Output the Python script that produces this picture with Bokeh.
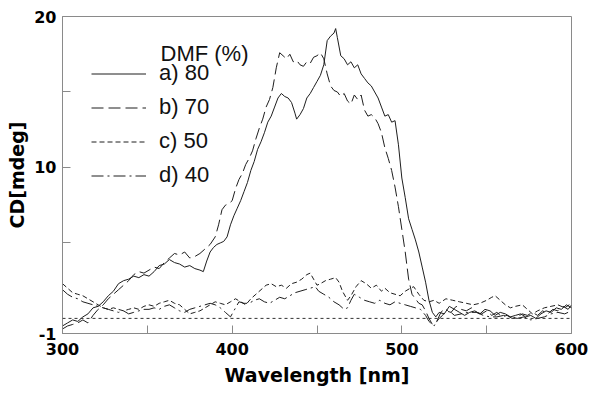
from bokeh.plotting import figure
from bokeh.models import Range1d, FixedTicker, Legend, LegendItem, Label, Span
from bokeh.embed import file_html
from bokeh.resources import INLINE

# ---- data ----
wl_a = [300,303,306,309,312,315,318,321,324,327,330,333,336,339,342,345,348,351,354,357,360,363,366,369,372,375,378,381,383,385,387,389,391,393,395,397,399,401,403,405,407,409,411,413,415,417,419,421,423,425,427,429,431,433,435,437,438,440,442,444,446,448,450,452,454,456,458,460,461,462,464,466,468,470,472,474,476,478,480,482,484,486,488,490,492,494,496,498,500,502,504,506,508,510,512,514,516,518,520,522,525,528,531,534,537,540,543,546,549,552,555,558,561,564,567,570,573,576,579,582,585,588,591,594,597,600]
cd_a = [-0.5,-0.3,-0.1,-0.2,0.1,0.3,0.7,0.8,1.1,1.5,1.8,2.3,2.5,2.6,2.8,2.7,2.9,2.8,3.1,3.5,3.6,3.9,3.7,3.6,3.4,3.5,3.3,3.2,3.1,3.8,4.4,4.7,4.9,5.0,5.1,5.4,6.2,6.8,7.3,7.8,8.4,9.0,9.8,10.4,11.2,11.7,12.3,13.0,13.4,14.0,14.6,14.9,14.7,14.6,14.3,13.6,13.2,13.5,13.9,14.6,14.9,15.3,15.7,16.1,16.8,18.4,18.7,18.9,19.2,18.6,17.4,17.2,16.8,17.0,16.6,16.8,16.2,15.9,15.6,15.4,15.0,14.6,14.0,13.4,13.5,13.0,13.1,11.5,9.3,8.0,6.6,5.9,5.2,4.4,3.4,2.4,1.2,0.4,0.1,0.4,0.3,0.8,0.6,0.4,0.2,0.4,0.5,0.3,0.6,0.5,0.2,0.4,0.3,0.1,0.2,0.3,0.1,0.2,0.0,0.3,0.5,0.4,0.7,0.6,0.9,0.7]

wl_b = [300,303,306,309,312,315,318,321,324,327,330,333,336,339,342,345,348,351,354,357,360,363,366,369,372,375,378,381,384,387,390,392,394,396,398,400,402,404,406,408,410,412,414,416,418,420,422,424,426,428,430,432,434,436,438,440,442,444,446,448,450,452,454,456,458,460,462,464,466,468,470,472,474,476,478,480,482,484,486,488,490,492,494,496,498,500,502,504,506,508,510,512,514,516,518,520,522,524,526,529,532,535,538,541,544,547,550,553,556,559,562,565,568,571,574,577,580,583,586,589,592,595,598,600]
cd_b = [-0.7,-0.5,-0.4,-0.3,-0.1,-0.3,0.2,0.6,0.9,1.3,1.6,1.9,2.2,2.5,2.9,3.1,3.0,3.2,3.4,3.3,3.7,4.0,4.3,4.2,4.4,4.0,4.1,4.3,4.6,4.9,5.4,6.2,7.2,7.5,7.6,7.8,8.6,9.2,9.6,10.2,10.6,11.1,11.9,12.6,13.2,14.0,14.5,15.3,16.6,17.6,17.4,17.2,17.5,17.0,17.1,16.8,16.7,17.0,16.9,17.3,17.4,17.6,17.2,16.2,15.4,15.1,15.0,14.7,14.9,14.4,14.2,14.8,14.5,14.8,13.8,13.4,13.5,13.3,12.9,12.3,11.3,10.6,9.8,8.7,7.4,5.9,4.4,2.6,1.6,1.3,1.0,0.9,0.5,0.0,-0.4,-0.3,0.0,0.2,0.5,0.4,0.8,0.6,0.5,0.7,0.4,0.3,0.5,0.2,0.4,0.1,0.2,0.0,0.1,0.3,0.2,0.4,0.2,0.5,0.3,0.6,0.5,0.8,0.6,0.9]

wl_c = [300,303,306,309,312,315,318,321,324,327,330,333,336,339,342,345,348,351,354,357,360,363,366,369,372,375,378,381,384,387,390,393,396,399,402,405,408,411,414,417,420,423,426,429,432,435,438,441,444,446,448,450,452,455,458,461,463,465,468,470,473,476,479,482,485,488,490,493,496,499,502,505,507,510,513,516,519,522,526,530,534,538,542,546,550,553,555,558,561,564,567,571,574,577,580,584,588,592,596,600]
cd_c = [2.3,2.0,1.7,1.6,1.5,1.3,1.1,0.9,0.7,0.6,0.7,0.6,0.5,0.6,0.7,0.6,0.8,0.9,0.8,1.0,1.1,1.2,1.0,0.9,0.6,0.3,0.4,0.5,0.7,0.9,1.1,1.0,0.9,1.1,1.3,1.1,0.9,1.3,1.6,1.9,2.2,2.3,2.1,2.2,2.0,2.3,2.4,2.6,2.9,3.0,2.6,2.2,2.3,2.5,2.6,2.7,2.4,1.8,1.2,1.5,2.1,2.5,2.3,2.0,2.2,1.8,2.0,1.7,1.6,1.5,1.8,2.0,2.1,1.6,1.2,1.1,1.2,1.0,1.3,1.2,1.1,1.0,0.9,1.0,1.2,1.4,1.5,1.2,0.9,0.7,0.8,0.9,0.6,0.3,0.5,0.7,0.8,0.9,0.7,1.0]

wl_d = [300,303,306,309,312,315,318,321,324,327,330,333,336,339,342,345,348,351,354,357,360,363,366,369,372,375,378,381,384,387,390,393,396,399,402,404,407,410,413,416,419,422,425,428,431,434,437,440,443,446,449,451,454,457,460,463,466,468,470,472,475,478,481,484,487,490,493,496,499,502,505,508,511,514,516,519,521,523,525,528,531,535,539,544,548,552,556,560,564,568,572,576,580,584,588,592,596,600]
cd_d = [1.9,1.6,1.4,1.3,1.1,1.0,0.9,0.8,0.7,0.6,0.5,0.4,0.5,0.3,0.4,0.5,0.6,0.6,0.7,0.6,0.8,0.9,0.7,0.5,0.4,0.6,0.7,0.8,0.9,1.0,0.9,0.7,0.4,0.1,0.7,1.1,1.0,1.0,1.2,1.3,1.1,1.0,1.2,1.4,1.3,1.5,1.7,1.8,1.9,2.0,2.1,1.8,1.6,1.4,1.1,0.9,0.6,0.7,1.2,1.6,1.4,1.2,1.1,1.0,1.2,1.0,0.9,1.1,1.0,0.9,0.8,0.7,0.6,0.2,-0.2,-0.5,-0.1,0.4,0.6,0.5,0.2,0.3,0.4,0.4,0.2,0.1,0.1,0.2,0.1,0.0,0.1,-0.1,0.0,0.1,0.3,0.4,0.3,0.5]

labels = ["a) 80", "b) 70", "c) 50", "d) 40"]
legend_title = "DMF (%)"
x_ticks = [300, 350, 400, 450, 500, 550, 600]
x_labeled = [300, 400, 500, 600]
y_ticks = [-1, 5, 10, 15, 20]
y_labeled = [-1, 10, 20]

LINE = "#1e1e1e"
GRAY = "#8a8a8a"
AXFONT = "DejaVu Sans"
LGFONT = "Liberation Sans"

p = figure(width=588, height=388, output_backend="svg", toolbar_location=None,
           x_range=Range1d(300, 600), y_range=Range1d(-1, 20),
           min_border_left=62, min_border_right=17, min_border_top=16, min_border_bottom=0)
p.grid.visible = False
p.outline_line_color = GRAY
p.outline_line_width = 1
p.background_fill_color = "white"
p.border_fill_color = "white"

zero = Span(location=0, dimension="width", line_color="#333333", line_width=1, line_dash="3 3")
p.add_layout(zero)

r_a = p.line(wl_a, cd_a, line_color=LINE, line_width=1)
r_b = p.line(wl_b, cd_b, line_color=LINE, line_width=1, line_dash="12 5")
r_c = p.line(wl_c, cd_c, line_color=LINE, line_width=1, line_dash="5 3")
r_d = p.line(wl_d, cd_d, line_color=LINE, line_width=1, line_dash="12 4 2 4")

for ax, ticks, lab in ((p.xaxis, x_ticks, x_labeled), (p.yaxis, y_ticks, y_labeled)):
    ax.ticker = FixedTicker(ticks=ticks)
    ax.major_label_overrides = {t: ("" if t not in lab else str(t)) for t in ticks}
    ax.minor_tick_line_color = None
    ax.major_tick_in = 8
    ax.major_tick_out = 0
    ax.major_tick_line_color = GRAY
    ax.axis_line_color = GRAY
    ax.major_label_text_font = AXFONT
    ax.major_label_text_font_style = "bold"
    ax.major_label_text_font_size = "16px"
    ax.major_label_text_color = "black"
    ax.axis_label_text_font = AXFONT
    ax.axis_label_text_font_style = "bold"
    ax.axis_label_text_font_size = "19px"
    ax.axis_label_text_color = "black"

p.xaxis.axis_label = "Wavelength [nm]"
p.yaxis.axis_label = "CD[mdeg]"
p.xaxis.major_label_standoff = 9
p.xaxis.axis_label_standoff = 6
p.yaxis.major_label_standoff = 6
p.yaxis.axis_label_standoff = 3

legend = Legend(items=[LegendItem(label=l, renderers=[r]) for l, r in zip(labels, [r_a, r_b, r_c, r_d])],
                location=(29, 145), orientation="vertical")
legend.border_line_color = None
legend.background_fill_alpha = 0
legend.padding = 0
legend.margin = 0
legend.spacing = 8
legend.glyph_width = 55
legend.glyph_height = 25
legend.label_height = 25
legend.label_standoff = 13
legend.label_text_font = LGFONT
legend.label_text_font_size = "22px"
legend.label_text_color = "#111111"
p.add_layout(legend, "center")

title = Label(x=98, y=280, x_units="screen", y_units="screen", text=legend_title,
              text_font=LGFONT, text_font_size="22px", text_color="#111111",
              text_baseline="middle", text_align="left")
p.add_layout(title)

open("out.html", "w").write(file_html(p, INLINE))
